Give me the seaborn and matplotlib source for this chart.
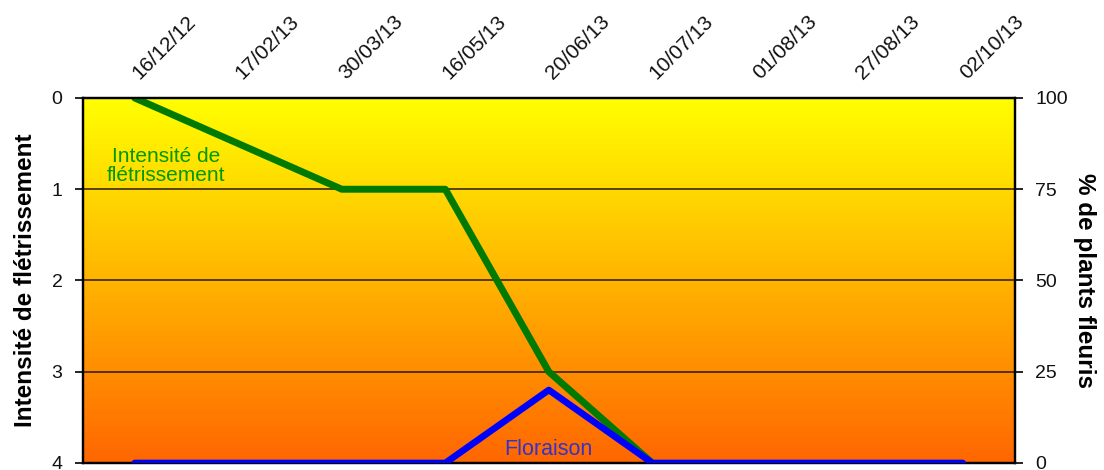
import numpy as np
import pandas as pd
import matplotlib
matplotlib.use("Agg")
import matplotlib.pyplot as plt
import matplotlib.transforms as mtransforms
import seaborn as sns
from matplotlib.colors import LinearSegmentedColormap

# Dates de relevé
dates = ["16/12/12", "17/02/13", "30/03/13", "16/05/13", "20/06/13",
         "10/07/13", "01/08/13", "27/08/13", "02/10/13"]
# Intensité de flétrissement (échelle 0-4, axe gauche inversé)
fletrissement = [0, 0.5, 1, 1, 3, 4, np.nan, np.nan, np.nan]
# % de plants fleuris (axe droit)
floraison = [0, 0, 0, 0, 20, 0, 0, 0, 0]

left_ticks = [0, 1, 2, 3, 4]
right_ticks = [0, 25, 50, 75, 100]

sns.set_theme(style="white")
plt.rcParams["font.family"] = ["Liberation Sans", "DejaVu Sans"]

df = pd.DataFrame({"pos": np.arange(len(dates)), "date": dates,
                   "fletrissement": fletrissement, "floraison": floraison})

fig = plt.figure(figsize=(11.04, 4.70), dpi=100)
ax = fig.add_axes([0.0752, 0.0149, 0.919 - 0.0752, 0.7915 - 0.0149])

# Fond en dégradé jaune -> orange
cmap = LinearSegmentedColormap.from_list("fond", ["#FFFF00", "#FFB400", "#FF6600"])
grad = np.linspace(0, 1, 256).reshape(-1, 1)
ax.imshow(grad, cmap=cmap, aspect="auto", extent=(-0.5, 8.5, 4, 0),
          zorder=0, interpolation="bicubic")

ax.set_xlim(-0.5, 8.5)
ax.set_ylim(4, 0)
for v in left_ticks[1:-1]:
    ax.axhline(v, color="#2b1a00", lw=1.1, zorder=1)

sns.lineplot(data=df, x="pos", y="fletrissement", ax=ax, color="#007A00",
             lw=5, zorder=3, legend=False)

ax.set_yticks(left_ticks)
ax.set_yticklabels([str(t) for t in left_ticks])
ax.set_ylabel("Intensité de flétrissement", fontsize=17.5, fontweight="bold",
              color="black", va="center")
ax.yaxis.set_label_coords(-0.062, 0.5)
ax.set_xlabel("")

ax.xaxis.tick_top()
ax.set_xticks(df["pos"])
ax.set_xticklabels(dates, rotation=45, ha="left", rotation_mode="anchor",
                   fontsize=15)
ax.tick_params(axis="x", length=0, pad=11, labelcolor="#111111")
shift = mtransforms.ScaledTranslation(7 / 100, 0, fig.dpi_scale_trans)
for lbl in ax.get_xticklabels():
    lbl.set_transform(lbl.get_transform() + shift)
ax.tick_params(axis="y", left=True, length=5.8, width=1.2, color="black",
               labelsize=14, pad=9, labelcolor="#111111")

ax.text(0.3, 0.75, "Intensité de\nflétrissement", color="#009900",
        fontsize=15, ha="center", va="center", linespacing=1.0, zorder=4)

ax2 = ax.twinx()
ax2.set_ylim(0, 100)
ax2.patch.set_visible(False)
sns.lineplot(data=df, x="pos", y="floraison", ax=ax2, color="#0000FF",
             lw=4.8, zorder=5, legend=False)
ax2.set_yticks(right_ticks)
ax2.set_yticklabels([str(t) for t in right_ticks])
ax2.set_ylabel("% de plants fleuris", fontsize=17.5, fontweight="bold",
               rotation=270, va="center", color="black")
ax2.yaxis.set_label_coords(1.075, 0.5)
ax2.set_xlabel("")
ax2.tick_params(axis="y", right=True, length=5.8, width=1.2, color="black",
                labelsize=14, pad=9, labelcolor="#111111")
ax2.text(4, 0.9, "Floraison", color="#3333CC", fontsize=15.5, ha="center",
         va="bottom", zorder=6)

for a in (ax, ax2):
    for s in a.spines.values():
        s.set_color("black")
        s.set_linewidth(1.6)

fig.savefig("out.png", dpi=100)
